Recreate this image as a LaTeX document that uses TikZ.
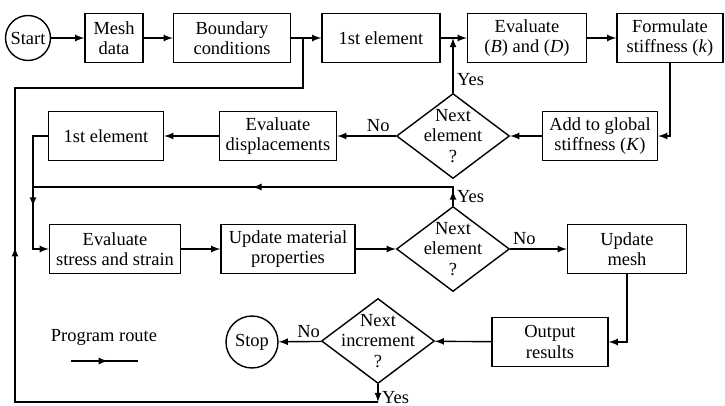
\documentclass[tikz,border=0pt]{standalone}
\usepackage{fontspec}
\setmainfont{Liberation Serif}
\usepackage{tikz}
\usetikzlibrary{arrows,shapes.geometric,decorations.markings}
\newcommand{\flowfont}{\fontsize{10.5}{11.5}\selectfont}
\newcommand{\boxht}{0.98cm}
\tikzset{
    boxsty/.style={draw,rectangle,minimum height=\boxht,inner sep=1pt,align=center,font=\flowfont},
    decsty/.style={draw,diamond,minimum width=2.26cm,minimum height=1.7cm,inner sep=0pt},
    declblsty/.style={align=center,font=\flowfont,inner sep=0pt},
    termsty/.style={draw,circle,inner sep=0pt,font=\flowfont},
    lblsty/.style={font=\flowfont,inner sep=2pt},
    midarrsty/.style={postaction={decorate,decoration={markings,mark=at position #1 with {\arrow{latex}}}}},
}

\begin{document}
\begin{tikzpicture}[>=latex,x=0.02cm,y=-0.02cm,line width=0.8pt]
\useasboundingbox (0,0) rectangle (725,406);
% first row
\node[termsty,minimum size=0.9cm] (start) at (28,38) {Start};
\node[boxsty,minimum width=1.16cm] (mesh) at (114,38) {Mesh\\data};
\node[boxsty,minimum width=2.34cm] (bound) at (232,38) {Boundary\\conditions};
\node[boxsty,minimum width=2.36cm] (elem1) at (381,38) {1st element};
\node[boxsty,minimum width=2.38cm] (evalbd) at (527,38) {Evaluate\\(\textit{B}) and (\textit{D})};
\node[boxsty,minimum width=2.12cm] (form) at (670,38) {Formulate\\stiffness (\textit{k})};
% second row
\node[boxsty,minimum width=2.3cm] (elem2) at (106,136) {1st element};
\node[boxsty,minimum width=2.34cm] (evdisp) at (278,136) {Evaluate\\displacements};
\node[decsty,label={[declblsty]center:Next\\element\\?}] (nxt1) at (453,136) {};
\node[boxsty,minimum width=2.3cm] (addk) at (600,136) {Add to global\\stiffness (\textit{K})};
% third row
\node[boxsty,minimum width=2.62cm] (evstress) at (115,249) {Evaluate\\stress and strain};
\node[boxsty,minimum width=2.68cm] (updmat) at (288,249) {Update material\\properties};
\node[decsty,label={[declblsty]center:Next\\element\\?}] (nxt2) at (453,249) {};
\node[boxsty,minimum width=2.38cm] (updmesh) at (627,249) {Update\\mesh};
% last row
\node[termsty,minimum size=1.04cm] (stop) at (252,342) {Stop};
\node[decsty,label={[declblsty]center:Next\\increment\\?}] (nxt3) at (378,341) {};
\node[boxsty,minimum width=2.32cm] (outres) at (550,342) {Output\\results};
% legend
\node[lblsty] (route) at (104,337) {Program route};
\coordinate (rta) at (71,361);
\coordinate (rtb) at (138,361);
\draw[midarrsty=0.55] (rta) -- (rtb);

% helper points for the return lines
\coordinate (jl) at (33,187);
\coordinate (incb) at (378,402);
\coordinate (retl) at (15,88);
\coordinate (retr) at (303,88);

% top row route
\draw[->] (start) -- (mesh);
\draw[->] (mesh) -- (bound);
\draw[->] (bound) -- (elem1);
\draw[->] (elem1) -- (evalbd);
\draw[->] (evalbd) -- (form);
\draw[->] (form.south) |- (addk.east);
\draw[->] (addk) -- (nxt1);
\draw[->] (nxt1.north) -- node[lblsty,pos=0.25,right]{Yes} (nxt1.north |- evalbd.west);
\draw[->] (nxt1) -- node[lblsty,pos=0.3,above]{No} (evdisp);
\draw[->] (evdisp) -- (elem2);

% element loop
\draw (elem2.west) -| (jl);
\draw[->,midarrsty=0.25] (jl) |- (evstress.west);
\draw[midarrsty=0.035,midarrsty=0.5] (nxt2.north) |- node[lblsty,pos=0.25,right]{Yes} (jl);
\draw[->] (evstress) -- (updmat);
\draw[->] (updmat) -- (nxt2);
\draw[->] (nxt2) -- node[lblsty,pos=0.25,above]{No} (updmesh);
\draw[->] (updmesh.south) |- (outres.east);
\draw[->] (outres) -- (nxt3);
\draw[->] (nxt3) -- node[lblsty,pos=0.3,above]{No} (stop);

% increment loop back to the top
\draw[->] (nxt3.south) -- node[lblsty,pos=0.75,right]{Yes} (incb);
\draw[midarrsty=0.51] (incb) -| (retl) -- (retr) -- (retr |- bound.east);
\end{tikzpicture}
\end{document}
